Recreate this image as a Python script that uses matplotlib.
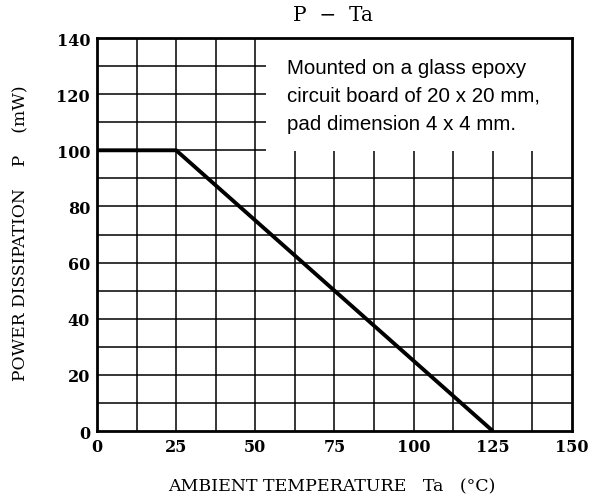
import matplotlib
matplotlib.use("Agg")
import matplotlib.pyplot as plt
import numpy as np
from matplotlib.patches import Rectangle

temps = [0, 25, 125]
power = [100, 100, 0]
xticks = [0, 25, 50, 75, 100, 125, 150]
yticks = [0, 20, 40, 60, 80, 100, 120, 140]

fig = plt.figure(figsize=(5.97, 5.02), dpi=100)
ax = fig.add_axes([0.1625, 0.1394, 0.7955, 0.7829])
ax.set_xlim(0, 150)
ax.set_ylim(0, 140)

for x in np.arange(12.5, 150, 12.5):
    ax.axvline(x, color='black', lw=1.1, zorder=1)
for y in np.arange(10, 140, 10):
    ax.axhline(y, color='black', lw=1.1, zorder=1)

ax.add_patch(Rectangle((53.5, 99.6), 96.5, 40.4, facecolor='white', edgecolor='none', zorder=2))
ax.text(60, 133.0, "Mounted on a glass epoxy\ncircuit board of 20 x 20 mm,\npad dimension 4 x 4 mm.",
        family='Liberation Sans', fontsize=14.8, va='top', ha='left', linespacing=1.62, zorder=3)

ax.plot(temps, power, color='black', lw=2.8, zorder=4, solid_capstyle='butt')

for s in ax.spines.values():
    s.set_linewidth(2.0)
    s.set_zorder(5)

ax.set_xticks(xticks)
ax.set_yticks(yticks)
ax.tick_params(length=0, pad=5)
for lab in ax.get_xticklabels() + ax.get_yticklabels():
    lab.set_family('DejaVu Serif')
    lab.set_fontweight('bold')
    lab.set_fontsize(11.5)

fig.text(0.557, 0.97, "P  \u2212  Ta", family='DejaVu Serif', fontsize=14.5, ha='center', va='center')
fig.text(0.556, 0.03, "AMBIENT TEMPERATURE   Ta   (\u00b0C)", family='DejaVu Serif', fontsize=12.5, ha='center', va='center')
fig.text(0.035, 0.535, "POWER DISSIPATION    P    (mW)", family='DejaVu Serif', fontsize=12.3, ha='center', va='center', rotation=90)

fig.savefig("out.png", dpi=100)
